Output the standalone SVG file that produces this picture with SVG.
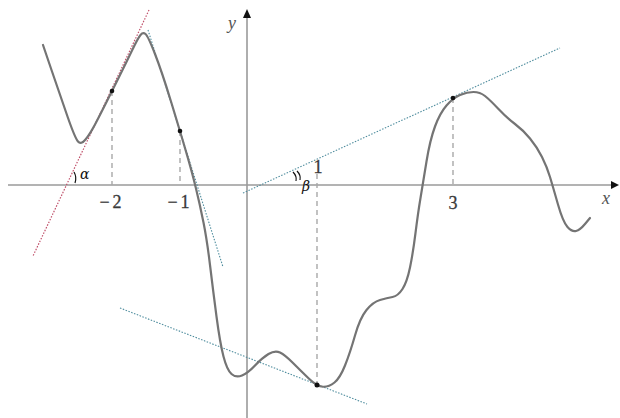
<svg xmlns="http://www.w3.org/2000/svg" width="620" height="418" viewBox="0 0 620 418">
<style>
.axis{stroke:#9a9a9a;stroke-width:1.6;fill:none}
.dash{stroke:#a8a8a8;stroke-width:1.4;stroke-dasharray:5 4;fill:none}
.curve{stroke:#747474;stroke-width:2.2;fill:none;stroke-linejoin:round;stroke-linecap:round}
.tr{stroke:#c0506a;stroke-width:1.2;stroke-dasharray:1.5 1.5;fill:none}
.tb{stroke:#4f8d9e;stroke-width:1.1;stroke-dasharray:1.5 1.5;fill:none}
.lbl{font-family:"Liberation Serif",serif;font-size:18px;fill:#3a3a3a;stroke:#3a3a3a;stroke-width:0.3}
.var{font-family:"Liberation Serif",serif;font-style:italic;font-size:18px;fill:#555}
.hand{font-family:"DejaVu Serif",serif;font-style:italic;font-size:14px;fill:#111}
.mark{stroke:#111;stroke-width:1.2;fill:none}
.pt{fill:#111}
</style>
<rect width="620" height="418" fill="#fff"/>
<g id="axes">
<line class="axis" x1="8" y1="185" x2="612" y2="185"/>
<polygon points="619,185 611,181 611,189" fill="#111"/>
<line class="axis" x1="247" y1="418" x2="247" y2="16"/>
<polygon points="247,9 243,18 251,18" fill="#111"/>
<text class="var" x="228" y="29">y</text>
<text class="var" x="602" y="204">x</text>
</g>
<g id="guides">
<line class="dash" x1="112" y1="91" x2="112" y2="185"/>
<line class="dash" x1="180" y1="131" x2="180" y2="185"/>
<line class="dash" x1="317" y1="174" x2="317" y2="385"/>
<line class="dash" x1="453" y1="98" x2="453" y2="185"/>
</g>
<g id="ticks">
<text class="lbl" x="112" y="208" text-anchor="middle" letter-spacing="3">−2</text>
<text class="lbl" x="180" y="208" text-anchor="middle" letter-spacing="3">−1</text>
<text class="lbl" x="318" y="173" text-anchor="middle">1</text>
<text class="lbl" x="453" y="209" text-anchor="middle">3</text>
</g>
<g id="tangents">
<line class="tr" x1="149" y1="10" x2="33" y2="256"/>
<line class="tb" x1="148" y1="30" x2="223" y2="267"/>
<line class="tb" x1="243" y1="193" x2="560" y2="48"/>
<line class="tb" x1="120" y1="308" x2="367" y2="404"/>
</g>
<g id="curve">
<path class="curve" d="M43,45 L51.5,70 Q60,95 67.5,116.5 Q75,138 78,141.5 Q81,145 85.5,139.5 Q90,134 95,124.5 Q100,115 106,103 Q112,91 119,77 Q126,63 132,50.5 Q138,38 140.5,35 Q143,32 145.5,34 Q148,36 155,54 Q162,72 171,101.5 Q180,131 186,151.5 Q192,172 196,188.5 Q200,205 203.5,222.5 Q207,240 210,265 Q213,290 216.5,316.5 Q220,343 223.5,356.5 Q227,370 231.5,374 Q236,378 242,375.5 Q248,373 255,365.5 Q262,358 268.5,354 Q275,350 280,352.5 Q285,355 292.5,362.5 Q300,370 308.5,378.25 Q317,386.5 323,386.75 Q329,387 334.5,382.5 Q340,378 345,365.5 Q350,353 355,335.5 Q360,318 366.5,310 Q373,302 380,300 Q387,298 392.5,297 Q398,296 402.5,289 Q407,282 410,267.5 Q413,253 415.5,233 Q418,213 420.5,198 Q423,183 426.5,161.5 Q430,140 435,126.5 Q440,113 446.5,105.5 Q453,98 460,95 Q467,92 473.5,92 Q480,92 485,96 Q490,100 498.5,109 Q507,118 515,124 Q523,130 530,138.5 Q537,147 542,157 Q547,167 550,177 Q553,187 558,204.5 Q563,222 567.5,227 Q572,232 576,231 Q580,230 585,224 L590,218"/>
</g>
<g id="points">
<circle class="pt" cx="112" cy="91" r="2.3"/>
<circle class="pt" cx="180" cy="131" r="2.3"/>
<circle class="pt" cx="453" cy="98" r="2.3"/>
<circle class="pt" cx="317" cy="385" r="2.5"/>
</g>
<g id="angles">
<path class="mark" d="M74,172 Q77,177 75,183"/>
<text class="hand" x="80" y="179">α</text>
<path class="mark" d="M293,172 Q297,176 296,181 M297,171 Q301,175 300,180"/>
<text class="hand" x="302" y="191" font-size="13">β</text>
</g>
</svg>
